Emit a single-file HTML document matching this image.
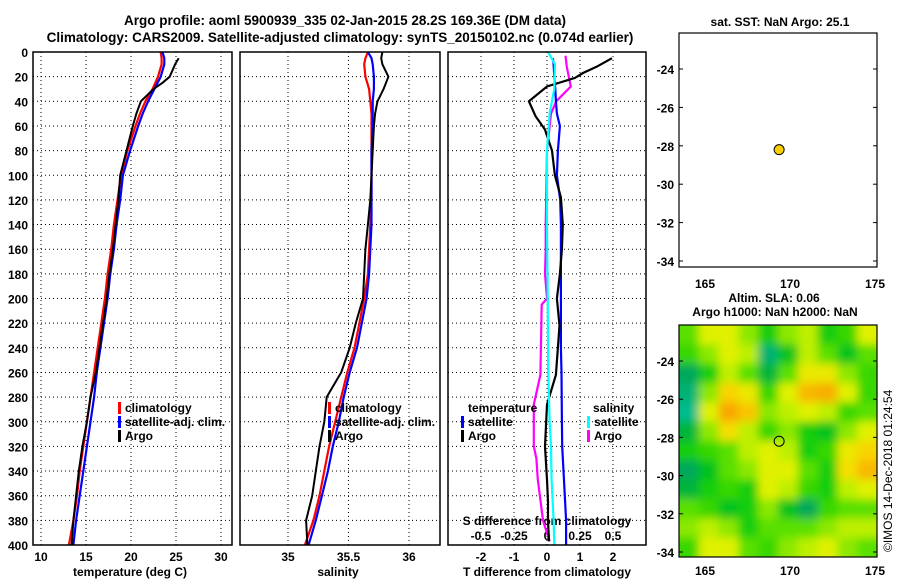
<!DOCTYPE html>
<html><head><meta charset="utf-8">
<style>
html,body{margin:0;padding:0;background:#fff;}
svg{display:block;font-family:"Liberation Sans",sans-serif;font-weight:bold;}
text{font-size:12px;fill:#000;}
</style></head>
<body>
<svg id="fig" width="900" height="580" viewBox="0 0 900 580">
<defs>
<filter id="blur" x="-10%" y="-10%" width="120%" height="120%"><feGaussianBlur stdDeviation="4.5"/></filter>
<clipPath id="mapclip"><rect x="679" y="325" width="198" height="232"/></clipPath>
</defs>
<text x="345" y="25" text-anchor="middle" style="font-size:13.5px">Argo profile: aoml 5900939_335 02-Jan-2015 28.2S 169.36E (DM data)</text>
<text x="340" y="42" text-anchor="middle" style="font-size:13.5px">Climatology: CARS2009. Satellite-adjusted climatology: synTS_20150102.nc (0.074d earlier)</text>
<g id="g"></g>
<text x="780" y="26" text-anchor="middle">sat. SST: NaN Argo: 25.1</text>
<text x="774" y="302" text-anchor="middle">Altim. SLA: 0.06</text>
<text x="775" y="316" text-anchor="middle">Argo h1000: NaN h2000: NaN</text>
<text transform="translate(892,552) rotate(-90)" style="font-size:12px;font-weight:normal">©IMOS 14-Dec-2018 01:24:54</text>
</svg>
<script>
// depth levels and series
const depths = [0,5,10,20,30,40,50,60,80,100,120,140,160,180,200,220,240,260,280,300,320,340,360,380,400];
const tempClim = [23.3,23.4,23.4,23.0,22.4,21.6,21.0,20.5,19.6,18.9,18.5,18.1,17.8,17.4,17.1,16.7,16.3,15.9,15.5,15.1,14.7,14.3,14.0,13.6,13.1];
const tempSat  = [23.5,23.7,23.7,23.3,22.6,21.9,21.3,20.8,19.9,19.1,18.8,18.4,18.1,17.7,17.4,17.0,16.6,16.2,15.9,15.5,15.1,14.7,14.3,13.9,13.6];
const tempArgoD = [5,10,20,25,30,40,50,60,80,100,120,140,160,180,200,220,240,260,280,300,320,340,360,380,400];
const tempArgo = [25.3,24.9,24.3,23.5,22.5,21.1,20.6,20.2,19.5,18.8,18.6,18.3,18.0,17.6,17.3,16.9,16.5,16.1,15.5,15.1,14.6,14.2,13.9,13.6,13.4];
const salClim = [35.66,35.64,35.63,35.64,35.67,35.68,35.69,35.69,35.69,35.69,35.69,35.68,35.67,35.66,35.63,35.59,35.55,35.49,35.44,35.39,35.34,35.30,35.26,35.21,35.14];
const salSat  = [35.66,35.69,35.70,35.71,35.71,35.70,35.70,35.70,35.69,35.69,35.69,35.69,35.68,35.67,35.65,35.61,35.57,35.51,35.46,35.42,35.37,35.33,35.28,35.23,35.17];
const salArgo = [35.78,35.77,35.78,35.83,35.79,35.74,35.72,35.71,35.70,35.69,35.68,35.66,35.64,35.63,35.62,35.56,35.51,35.44,35.32,35.30,35.26,35.23,35.20,35.15,35.16];
const dTsat  = [0.18,0.20,0.22,0.25,0.27,0.30,0.39,0.33,0.30,0.40,0.42,0.42,0.42,0.42,0.42,0.42,0.44,0.45,0.46,0.50,0.54,0.58,0.58];
const dTsatD = [5,10,20,30,40,50,60,80,100,120,140,160,180,200,220,240,260,300,320,340,360,380,400];
const dTargo = [1.97,1.5,1.09,0.85,0.0,-0.55,-0.35,-0.06,0.15,0.24,0.42,0.48,0.45,0.39,0.30,0.38,0.27,0.0,-0.06,0.0,0.03,0.03,0.06];
const dTargoD = [5,12,17,21,28,40,52,63,80,100,118,140,160,180,200,222,262,286,320,347,365,380,397];
const dSargo = [0.14,0.15,0.18,0.07,0.03,0.0,-0.01,-0.01,-0.015,0.0,-0.04,-0.05,-0.1,-0.1,-0.08,-0.07,-0.03,0.02];
const dSargoD = [3,12,28,40,50,80,140,160,180,200,205,262,286,320,330,347,380,397];
const dSsat = [0.008,0.06,0.055,0.02,0.0,0.0,0.005,0.01,0.02,0.03,0.035,0.05,0.055];
const dSsatD = [0,10,30,50,80,140,200,262,300,320,347,380,400];
const tempTicks = [10,15,20,25,30];
const salTicks = [35,35.5,36];
const dTTicks = [-2,-1,0,1,2];
const dSTicks = ["-0.5","-0.25","0","0.25","0.5"];
const depthTicks = [0,20,40,60,80,100,120,140,160,180,200,220,240,260,280,300,320,340,360,380,400];
const lonTicks = [165,170,175];
const latTicks = [-24,-26,-28,-30,-32,-34];
const argoPos = [169.36,-28.2];
// SLA heatmap grid (rows north->south, cols west->east), normalized 0..1
const slaGrid = [
[0.45,0.6,0.6,0.5,0.35,0.5,0.55,0.35,0.4,0.6],
[0.4,0.5,0.6,0.55,0.15,0.3,0.55,0.45,0.3,0.45],
[0.2,0.35,0.55,0.45,0.25,0.45,0.65,0.65,0.5,0.4],
[0.15,0.5,0.75,0.65,0.4,0.6,0.85,0.9,0.6,0.4],
[0.1,0.6,0.95,0.8,0.5,0.55,0.6,0.55,0.4,0.45],
[0.25,0.5,0.7,0.55,0.4,0.5,0.35,0.3,0.5,0.6],
[0.35,0.4,0.45,0.55,0.6,0.55,0.35,0.4,0.65,0.75],
[0.2,0.3,0.45,0.5,0.6,0.6,0.45,0.35,0.7,0.85],
[0.25,0.35,0.4,0.35,0.6,0.55,0.4,0.35,0.55,0.6],
[0.45,0.4,0.3,0.35,0.5,0.3,0.2,0.4,0.45,0.45],
[0.5,0.55,0.5,0.35,0.45,0.45,0.45,0.5,0.55,0.55],
[0.4,0.6,0.6,0.45,0.4,0.5,0.55,0.6,0.5,0.45]];

const NS='http://www.w3.org/2000/svg';
const G=document.getElementById('g');
function mk(tag,attrs,parent){const e=document.createElementNS(NS,tag);for(const k in attrs)e.setAttribute(k,attrs[k]);(parent||G).appendChild(e);return e;}
const Y0=52,Y1=545;
const yD=d=>Y0+(Y1-Y0)*d/400;
const xT=v=>41+(v-10)*9;
const xS=v=>288+(v-35)*121;
const xDT=v=>547+v*33;
const xDS=v=>547+v*132;
const panels=[[33,232],[240,440],[448,646]];

function dotted(x1,y1,x2,y2){mk('line',{x1,y1,x2,y2,stroke:'#000','stroke-width':1,'stroke-dasharray':'1 3'});}
function frame(x0,x1,name){
  const r=mk('rect',{x:x0,y:Y0,width:x1-x0,height:Y1-Y0,fill:'none',stroke:'#000','stroke-width':1.5});
  
  
}
function line(xs,ds,xf,color,name,w){
  const pts=xs.map((v,i)=>xf(v).toFixed(1)+','+yD(ds[i]).toFixed(1)).join(' ');
  const p=mk('polyline',{points:pts,fill:'none',stroke:color,'stroke-width':w||2.2});
  
  
}
function txt(x,y,s,anchor,name,size){
  const t=mk('text',{x,y,'text-anchor':anchor||'start'});t.textContent=s;
  if(size)t.style.fontSize=size+'px';
  
  
  return t;
}
panels.forEach((p,pi)=>{
  depthTicks.forEach(d=>{ if(d>0&&d<400) dotted(p[0],yD(d),p[1],yD(d)); });
});
tempTicks.forEach(v=>dotted(xT(v),Y0,xT(v),Y1));
salTicks.forEach(v=>dotted(xS(v),Y0,xS(v),Y1));
dTTicks.forEach(v=>dotted(xDT(v),Y0,xDT(v),Y1));
depthTicks.forEach(d=>txt(28,yD(d)+5,String(d),'end','depth-tick-label'));
tempTicks.forEach(v=>txt(xT(v),561,String(v),'middle','temp-tick-label'));
salTicks.forEach(v=>txt(xS(v),561,String(v),'middle','salinity-tick-label'));
dTTicks.forEach(v=>txt(xDT(v),561,String(v),'middle','tdiff-tick-label'));
dSTicks.forEach(v=>txt(xDS(parseFloat(v)),540,v,'middle','sdiff-tick-label'));
txt(130,576,'temperature (deg C)','middle','temp-axis-title');
txt(338,576,'salinity','middle','salinity-axis-title');
txt(547,576,'T difference from climatology','middle','tdiff-axis-title');
txt(547,525,'S difference from climatology','middle','sdiff-axis-title');
line(tempClim,depths,xT,'#f00','temp-climatology-line');
line(tempSat,depths,xT,'#00f','temp-satellite-line');
line(tempArgo,tempArgoD,xT,'#000','temp-argo-line',2);
line(salClim,depths,xS,'#f00','salinity-climatology-line');
line(salSat,depths,xS,'#00f','salinity-satellite-line');
line(salArgo,depths,xS,'#000','salinity-argo-line',2);
line(dSargo,dSargoD,xDS,'#f0f','sdiff-argo-line');
line(dTsat,dTsatD,xDT,'#00f','tdiff-satellite-line');
line(dTargo,dTargoD,xDT,'#000','tdiff-argo-line');
line(dSsat,dSsatD,xDS,'#0ff','sdiff-satellite-line');
frame(33,232,'temperature-panel');frame(240,440,'salinity-panel');frame(448,646,'difference-panel');
function leg(x,y,color,s,name){
  const r=mk('rect',{x:x,y:y-10,width:3,height:12,fill:color});
  
  
  txt(x+7,y,s,'start',name);
}
leg(118,412,'#f00','climatology','legend-climatology');
leg(118,426,'#00f','satellite-adj. clim.','legend-satellite-adj');
leg(118,440,'#000','Argo','legend-argo');
leg(328,412,'#f00','climatology','legend2-climatology');
leg(328,426,'#00f','satellite-adj. clim.','legend2-satellite-adj');
leg(328,440,'#000','Argo','legend2-argo');
txt(468,412,'temperature','start','legend-temperature-heading');
leg(461,426,'#00f','satellite','legend-t-satellite');
leg(461,440,'#000','Argo','legend-t-argo');
txt(593,412,'salinity','start','legend-salinity-heading');
leg(587,426,'#0ff','satellite','legend-s-satellite');
leg(587,440,'#f0f','Argo','legend-s-argo');

function mapAxes(top,bot,name){
  const L=679,R=877;
  const xL=v=>705+(v-165)*17;
  const yL=v=>top+(v+24)/(-10)*(bot-top);
  lonTicks.forEach(v=>{
    txt(xL(v),(top===69?288:575),String(v),'middle',name+'-lon-label');
  });
  latTicks.forEach(v=>{
    mk('line',{x1:L,y1:yL(v),x2:L+4,y2:yL(v),stroke:'#000'});
    mk('line',{x1:R-4,y1:yL(v),x2:R,y2:yL(v),stroke:'#000'});
    txt(674,yL(v)+5,String(v),'end',name+'-lat-label');
  });
  return [xL,yL];
}
const m1=mapAxes(69,261,'sst-map');
const f1=mk('rect',{x:679,y:33,width:198,height:234,fill:'none',stroke:'#000','stroke-width':1.2});


const c1=mk('circle',{cx:m1[0](argoPos[0]),cy:m1[1](argoPos[1]),r:5,fill:'#f8d000',stroke:'#000','stroke-width':1});


const hm=mk('g',{'clip-path':'url(#mapclip)'});


const stops=[[0,[0,208,192]],[0.2,[0,168,90]],[0.32,[0,200,16]],[0.45,[90,224,0]],[0.58,[220,244,0]],[0.72,[248,220,0]],[0.88,[248,176,0]],[1,[248,160,0]]];
function cmap(v){for(let i=1;i<stops.length;i++){if(v<=stops[i][0]){const a=stops[i-1],b=stops[i],t=(v-a[0])/(b[0]-a[0]);return 'rgb('+a[1].map((c,k)=>Math.round(c+(b[1][k]-c)*t)).join(',')+')';}}return 'rgb(248,160,0)';}
mk('rect',{x:679,y:325,width:198,height:232,fill:cmap(0.45)},hm);
const bg=mk('g',{filter:'url(#blur)'},hm);
const nr=slaGrid.length,nc=slaGrid[0].length,cw=198/nc,ch=232/nr;
slaGrid.forEach((row,r)=>row.forEach((v,c)=>{
  let x=679+c*cw,y=325+r*ch,w=cw+0.5,h=ch+0.5;
  if(c===0){x-=12;w+=12;} if(c===nc-1){w+=12;}
  if(r===0){y-=12;h+=12;} if(r===nr-1){h+=12;}
  const cell=mk('rect',{x,y,width:w,height:h,fill:cmap(v)},bg);
  
  
}));
const m2=mapAxes(361,552,'sla-map');
const f2=mk('rect',{x:679,y:325,width:198,height:232,fill:'none',stroke:'#000','stroke-width':1.2});


const c2=mk('circle',{cx:m2[0](argoPos[0]),cy:m2[1](argoPos[1]),r:5,fill:'none',stroke:'#000','stroke-width':1});


</script>
</body></html>
